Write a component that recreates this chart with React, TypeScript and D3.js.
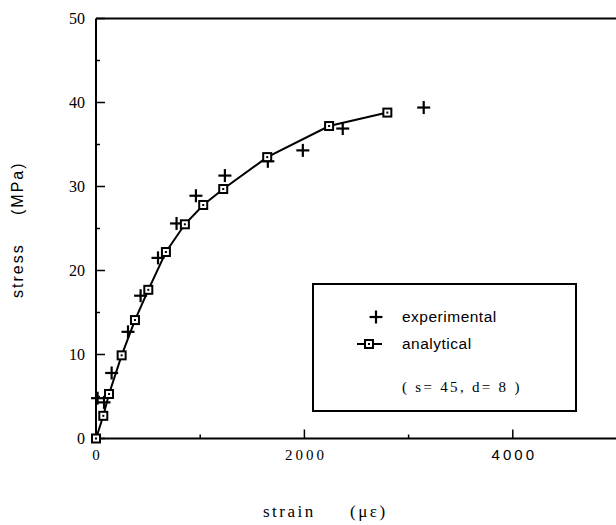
import React from "react";
import * as d3 from "d3";

const expStrain = [15, 77, 150, 307, 428, 595, 773, 959, 1237, 1649, 1985, 2368, 3145];
const expStress = [4.8, 4.3, 7.8, 12.7, 17.0, 21.5, 25.6, 28.9, 31.3, 33.0, 34.3, 36.9, 39.4];
const anaStrain = [0, 70, 125, 246, 374, 502, 671, 853, 1029, 1221, 1643, 2237, 2796];
const anaStress = [0, 2.7, 5.3, 9.9, 14.1, 17.7, 22.2, 25.5, 27.8, 29.7, 33.5, 37.2, 38.8];
const yMajor = [0, 10, 20, 30, 40, 50];
const yMinor = [5, 15, 25, 35, 45];
const xMajor = [0, 2000, 4000];
const xMinor = [1000, 3000];

const W = 616, H = 525;
const L = 96, T = 18.5, B = 438.5, R = 617;

export default function App() {
  const x = d3.scaleLinear().domain([0, 5000]).range([L, R]);
  const y = d3.scaleLinear().domain([0, 50]).range([B, T]);
  const ana = anaStrain.map((s, i) => [s, anaStress[i]] as [number, number]);
  const exp = expStrain.map((s, i) => [s, expStress[i]] as [number, number]);
  const line = d3.line<[number, number]>().x(d => x(d[0])).y(d => y(d[1]));
  const serif = "'Liberation Serif', 'DejaVu Serif', serif";
  const sans = "'Liberation Sans', Arial, sans-serif";
  const cross = (cx: number, cy: number, k: string) => (
    <g key={k} stroke="#000" strokeWidth={2.2}>
      <line x1={cx - 6.5} x2={cx + 6.5} y1={cy} y2={cy} />
      <line x1={cx} x2={cx} y1={cy - 6.5} y2={cy + 6.5} />
    </g>
  );
  const square = (cx: number, cy: number, k: string) => (
    <g key={k}>
      <rect x={cx - 4} y={cy - 4} width={8} height={8} fill="#fff" stroke="#000" strokeWidth={2} />
      <rect x={cx - 1} y={cy - 1} width={2} height={2} fill="#000" />
    </g>
  );
  return (
    <svg width={W} height={H} style={{ position: "absolute", left: 0, top: 0, background: "#fff" }}>
      <line x1={L} x2={R} y1={T} y2={T} stroke="#000" strokeWidth={2} />
      <line x1={L} x2={L} y1={T} y2={B} stroke="#000" strokeWidth={2} />
      <line x1={L} x2={R} y1={B} y2={B} stroke="#000" strokeWidth={2} />
      {yMajor.map(v => (
        <g key={"ym" + v}>
          <line x1={L} x2={L + 9} y1={y(v)} y2={y(v)} stroke="#000" strokeWidth={1.5} />
          <text x={L - 11} y={y(v)} dy="0.35em" textAnchor="end" fontFamily={serif} fontSize={16}>{v}</text>
        </g>
      ))}
      {yMinor.map(v => (
        <line key={"yn" + v} x1={L} x2={L + 4} y1={y(v)} y2={y(v)} stroke="#000" strokeWidth={1.5} />
      ))}
      {xMajor.map(v => (
        <g key={"xm" + v}>
          <line x1={x(v)} x2={x(v)} y1={B} y2={B - 9} stroke="#000" strokeWidth={1.5} />
          <text x={x(v)} dx={v === 0 ? 0 : 1.5} y={B + 21} textAnchor="middle" fontFamily={v === 4000 ? sans : serif} fontSize={15} letterSpacing={v === 0 ? 0 : 3}>{v}</text>
        </g>
      ))}
      {xMinor.map(v => (
        <line key={"xn" + v} x1={x(v)} x2={x(v)} y1={B} y2={B - 4} stroke="#000" strokeWidth={1.5} />
      ))}
      <g transform="translate(23,0) rotate(-90)" fontFamily={sans} fontSize={16} letterSpacing={2}>
        <text x={-298} y={0}>stress</text>
        <text x={-215} y={0}>(MPa)</text>
      </g>
      <text x={263} y={517} fontFamily={serif} fontSize={17} letterSpacing={2.5}>strain</text>
      <text x={350} y={517} fontFamily={serif} fontSize={17} letterSpacing={2.5}>(με)</text>
      <path d={line(ana) || ""} fill="none" stroke="#000" strokeWidth={2} />
      {exp.map((d, i) => cross(x(d[0]), y(d[1]), "e" + i))}
      {ana.map((d, i) => square(x(d[0]), y(d[1]), "a" + i))}
      <rect x={313} y={284} width={263} height={127} fill="#fff" stroke="#000" strokeWidth={2} />
      {cross(376, 317, "lc")}
      <text x={402} y={317} dy="0.35em" fontFamily={sans} fontSize={15.5} letterSpacing={0.5}>experimental</text>
      <line x1={357} x2={382} y1={344} y2={344} stroke="#000" strokeWidth={2} />
      {square(369, 344, "ls")}
      <text x={402} y={344} dy="0.35em" fontFamily={sans} fontSize={15.5} letterSpacing={0.5}>analytical</text>
      <text x={402} y={387} dy="0.35em" fontFamily={serif} fontSize={15} letterSpacing={2.3}>( s= 45, d= 8 )</text>
    </svg>
  );
}
